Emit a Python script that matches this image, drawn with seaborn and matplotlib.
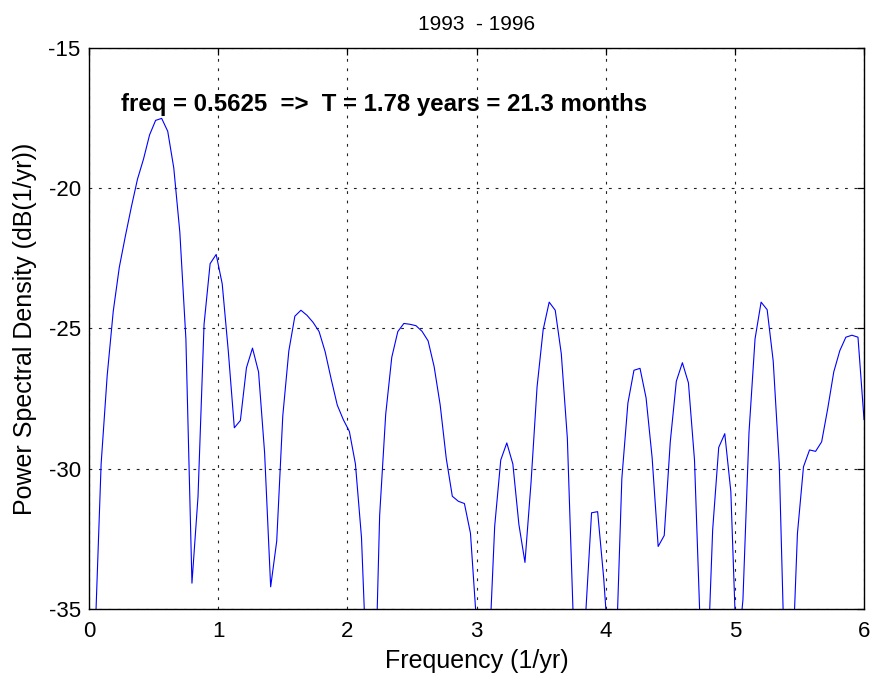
import numpy as np
import pandas as pd
import matplotlib
matplotlib.use('Agg')
import matplotlib.pyplot as plt
import seaborn as sns

# frequency bins (1/yr), 12 samples/yr with nfft 256 -> step 12/256
freq = np.linspace(0, 6, 129)

# power spectral density (dB)
psd = [
    -38.0, -36.0, -29.83, -26.68, -24.39, -22.82, -21.71, -20.66, -19.68, -18.96,
    -18.10, -17.58, -17.51, -17.97, -19.28, -21.57, -25.37, -34.08, -31.00, -24.85,
    -22.69, -22.36, -23.41, -25.80, -28.54, -28.28, -26.40, -25.70, -26.55, -29.43,
    -34.21, -32.58, -28.12, -25.80, -24.56, -24.35, -24.53, -24.78, -25.11, -25.83,
    -26.81, -27.73, -28.25, -28.67, -29.83, -32.45, -38.00, -40.00, -31.66, -28.06,
    -26.03, -25.11, -24.82, -24.85, -24.90, -25.10, -25.44, -26.36, -27.73, -29.63,
    -30.98, -31.16, -31.24, -32.30, -35.50, -39.00, -37.00, -32.05, -29.69, -29.08,
    -29.83, -31.99, -33.34, -30.50, -27.08, -25.05, -24.06, -24.35, -25.90, -28.91,
    -35.50, -39.00, -35.30, -31.57, -31.53, -33.89, -37.00, -37.00, -30.35, -27.66,
    -26.49, -26.42, -27.47, -29.60, -32.77, -32.38, -29.04, -26.88, -26.22, -26.94,
    -29.69, -36.00, -38.00, -32.18, -29.24, -28.75, -30.81, -37.00, -34.67, -28.71,
    -25.37, -24.06, -24.33, -26.16, -29.83, -38.00, -38.00, -32.31, -29.93, -29.33,
    -29.38, -29.04, -27.86, -26.55, -25.79, -25.31, -25.24, -25.31, -28.25,
]

df = pd.DataFrame({'freq': freq, 'psd': psd})

sns.set_style('white')
plt.rcParams['font.family'] = ['Liberation Sans', 'DejaVu Sans']
plt.rcParams['axes.unicode_minus'] = False
plt.rcParams['text.color'] = 'black'
plt.rcParams['axes.labelcolor'] = 'black'

fig = plt.figure(figsize=(8.71, 6.73), dpi=100)
ax = fig.add_axes([0.1022, 0.0951, 0.8898, 0.8336])

sns.lineplot(data=df, x='freq', y='psd', color='#0000ff', linewidth=0.8,
             sort=False, estimator=None, ax=ax)

ax.set_xlim(0, 6)
ax.set_ylim(-35, -15)
ax.set_xticks(range(0, 7))
ax.set_yticks([-35, -30, -25, -20, -15])

# matlab style grid and ticks
ax.grid(True, color='#222222', linestyle=(0, (2.5, 6)), linewidth=0.8)
ax.tick_params(direction='in', length=5, width=0.9, top=True, right=True,
               labelsize=16, colors='black', pad=6)
ax.tick_params(axis='x', pad=9)
for s in ax.spines.values():
    s.set_color('black')
    s.set_linewidth(1.0)

ax.set_title('1993  - 1996', fontsize=15, pad=13, color='black')
ax.set_xlabel('Frequency (1/yr)', fontsize=18, labelpad=5)
ax.set_ylabel('Power Spectral Density (dB(1/yr))', fontsize=18, labelpad=8)

ax.text(0.25, -17.0, 'freq = 0.5625  =>  T = 1.78 years = 21.3 months',
        fontsize=17.3, fontweight='bold', ha='left', va='center', color='black')

fig.savefig('out.png', dpi=100)
